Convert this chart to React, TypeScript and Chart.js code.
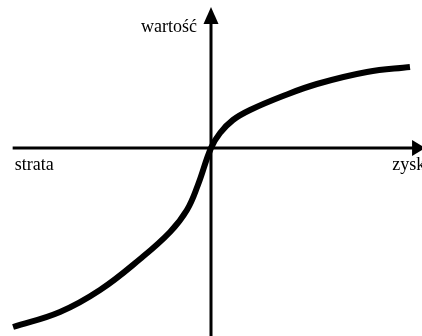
import React, { useEffect, useRef } from "react";
import { Chart, registerables } from "chart.js";

Chart.register(...registerables);

// Value function (prospect theory)
const gainLoss = [-9.38, -7.16, -5.26, -3.36, -1.94, -1.14, -0.62, 0, 0.43, 1.04, 1.85, 3.41, 5.02, 7.39, 9.43];
const values = [-8.95, -8.2, -7.1, -5.55, -4.2, -3.1, -1.85, 0, 0.75, 1.4, 1.9, 2.6, 3.2, 3.8, 4.05];

const xAxisLabelLeft = "strata";
const xAxisLabelRight = "zysk";
const yAxisLabel = "wartość";

// axis extents in data units
const X_MIN = -10;
const X_MAX = 10;
const Y_MIN = -9.4;
const Y_MAX = 7.4;
const xAxisStart = -9.4;
const xAxisArrowBase = 9.53;
const xAxisArrowTip = 10.15;
const yAxisArrowBase = 6.2;
const yAxisArrowTip = 7.05;

const axesPlugin = {
  id: "axesPlugin",
  beforeDatasetsDraw(chart: any) {
    const ctx = chart.ctx;
    const xs = chart.scales.x;
    const ys = chart.scales.y;
    const x0 = xs.getPixelForValue(0);
    const y0 = ys.getPixelForValue(0);
    ctx.save();
    ctx.strokeStyle = "#000";
    ctx.fillStyle = "#000";
    ctx.lineWidth = 3;
    ctx.lineCap = "butt";
    // horizontal axis
    const hx1 = xs.getPixelForValue(xAxisStart);
    const hBase = xs.getPixelForValue(xAxisArrowBase);
    const hTip = xs.getPixelForValue(xAxisArrowTip);
    ctx.beginPath();
    ctx.moveTo(hx1, y0);
    ctx.lineTo(hBase + 1, y0);
    ctx.stroke();
    ctx.beginPath();
    ctx.moveTo(hTip, y0);
    ctx.lineTo(hBase, y0 - 8);
    ctx.lineTo(hBase, y0 + 8);
    ctx.closePath();
    ctx.fill();
    // vertical axis
    const vBottom = ys.getPixelForValue(Y_MIN);
    const vBase = ys.getPixelForValue(yAxisArrowBase);
    const vTip = ys.getPixelForValue(yAxisArrowTip);
    ctx.beginPath();
    ctx.moveTo(x0, vBottom);
    ctx.lineTo(x0, vBase - 1);
    ctx.stroke();
    ctx.beginPath();
    ctx.moveTo(x0, vTip);
    ctx.lineTo(x0 - 7.5, vBase);
    ctx.lineTo(x0 + 7.5, vBase);
    ctx.closePath();
    ctx.fill();

    // labels
    ctx.font = "18px 'Liberation Serif', 'Times New Roman', serif";
    ctx.textBaseline = "alphabetic";
    ctx.textAlign = "left";
    ctx.fillText(xAxisLabelLeft, hx1 + 2, y0 + 22);
    ctx.fillText(xAxisLabelRight, hTip - 33, y0 + 22);
    ctx.textAlign = "right";
    ctx.fillText(yAxisLabel, x0 - 14, vBase + 8);
    ctx.restore();
  },
};

export default function App() {
  const canvasRef = useRef<HTMLCanvasElement | null>(null);

  useEffect(() => {
    const canvas = canvasRef.current;
    if (!canvas) return;
    const chart = new Chart(canvas, {
      type: "scatter",
      data: {
        datasets: [
          {
            data: gainLoss.map((x, i) => ({ x, y: values[i] })),
            showLine: true,
            borderColor: "#000",
            borderWidth: 6,
            borderCapStyle: "butt",
            borderJoinStyle: "round",
            pointRadius: 0,
            pointHoverRadius: 0,
            tension: 0.4,
            fill: false,
          } as any,
        ],
      },
      options: {
        animation: false,
        responsive: false,
        devicePixelRatio: 1,
        layout: { padding: 0 },
        plugins: {
          legend: { display: false },
          tooltip: { enabled: false },
        },
        events: [],
        scales: {
          x: { type: "linear", display: false, min: X_MIN, max: X_MAX },
          y: { type: "linear", display: false, min: Y_MIN, max: Y_MAX },
        },
      },
      plugins: [axesPlugin],
    });
    return () => chart.destroy();
  }, []);

  return (
    <div style={{ position: "fixed", left: 0, top: 0, width: 422, height: 336, background: "#fff" }}>
      <canvas ref={canvasRef} width={422} height={336} style={{ display: "block" }} />
    </div>
  );
}
